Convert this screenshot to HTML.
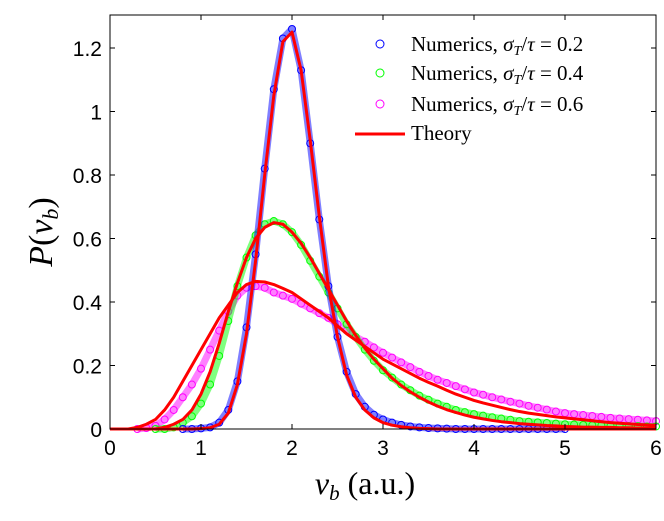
<!DOCTYPE html>
<html><head><meta charset="utf-8"><style>
body{margin:0;background:#fff}
svg text{font-family:"Liberation Sans",sans-serif}
.ser{font-family:"Liberation Serif",serif}
</style></head><body>
<svg id="chart" width="664" height="516" viewBox="0 0 664 516" xmlns="http://www.w3.org/2000/svg">
<g id="marks"></g>
<rect x="110" y="15" width="546" height="414" fill="none" stroke="#000" stroke-width="1"/>
<g id="axes"></g>
<text class="ser" transform="translate(52,232) rotate(-90)" text-anchor="middle" font-size="34"><tspan font-style="italic">P</tspan>(<tspan font-style="italic">v</tspan><tspan font-style="italic" font-size="22" dy="6">b</tspan><tspan dy="-6">)</tspan></text>
<text class="ser" x="365" y="494" text-anchor="middle" font-size="32"><tspan font-style="italic">v</tspan><tspan font-style="italic" font-size="21" dy="6">b</tspan><tspan dy="-6"> (a.u.)</tspan></text>
<g class="ser" font-size="21">
<circle cx="380" cy="44" r="4" fill="none" stroke="#0000ff"/>
<text class="ser" x="411" y="51">Numerics, <tspan font-style="italic">σ</tspan><tspan font-style="italic" font-size="14" dy="4">T</tspan><tspan dy="-4">/</tspan><tspan font-style="italic">τ</tspan> = 0.2</text>
<circle cx="380" cy="73" r="4" fill="none" stroke="#00ff00"/>
<text class="ser" x="411" y="80">Numerics, <tspan font-style="italic">σ</tspan><tspan font-style="italic" font-size="14" dy="4">T</tspan><tspan dy="-4">/</tspan><tspan font-style="italic">τ</tspan> = 0.4</text>
<circle cx="380" cy="104" r="4" fill="none" stroke="#ff00ff"/>
<text class="ser" x="411" y="111">Numerics, <tspan font-style="italic">σ</tspan><tspan font-style="italic" font-size="14" dy="4">T</tspan><tspan dy="-4">/</tspan><tspan font-style="italic">τ</tspan> = 0.6</text>
<line x1="355" y1="134" x2="405" y2="134" stroke="#ff0000" stroke-width="3"/>
<text class="ser" x="411" y="140">Theory</text>
</g>
</svg>
<script>
const xTicks=[0,1,2,3,4,5,6];
const yTicks=[0,0.2,0.4,0.6,0.8,1,1.2];
const yTickLabels=["0","0.2","0.4","0.6","0.8","1","1.2"];
const xStep=0.1;
const blueNum=[null,null,null,null,null,null,null,null,0,0,0.002,0.005,0.02,0.06,0.15,0.32,0.55,0.82,1.07,1.23,1.26,1.13,0.9,0.66,0.45,0.29,0.18,0.11,0.07,0.045,0.03,0.02,0.013,0.008,0.005,0.003,0.002,0.001,0,0,0,0,0,0,0,0,0,0,0,0,0,null,null,null,null,null,null,null,null,null,null];
const blueTh=[0,0,0,0,0,0,0,0,0,0,0.001,0.004,0.015,0.05,0.14,0.3,0.53,0.8,1.05,1.22,1.25,1.13,0.91,0.67,0.45,0.29,0.17,0.1,0.06,0.035,0.02,0.012,0.007,0.004,0.002,0.001,0,0,0,0,0,0,0,0,0,0,0,0,0,0,0,0,0,0,0,0,0,0,0,0,0];
const greenNum=[null,null,null,null,null,0,0,0.005,0.02,0.04,0.08,0.14,0.23,0.34,0.45,0.54,0.61,0.645,0.655,0.645,0.62,0.58,0.53,0.48,0.43,0.38,0.33,0.29,0.25,0.215,0.185,0.162,0.14,0.122,0.105,0.092,0.08,0.07,0.06,0.053,0.047,0.042,0.037,0.033,0.029,0.025,0.023,0.021,0.019,0.017,0.015,0.014,0.013,0.012,0.011,0.01,0.01,0.009,0.009,0.008,0.008];
const greenTh=[0,0,0,0,0,0,0.005,0.015,0.03,0.06,0.11,0.18,0.27,0.37,0.46,0.54,0.6,0.635,0.65,0.645,0.62,0.585,0.54,0.49,0.44,0.39,0.34,0.295,0.255,0.22,0.19,0.16,0.137,0.117,0.1,0.085,0.072,0.061,0.052,0.044,0.037,0.032,0.027,0.023,0.02,0.017,0.015,0.013,0.011,0.01,0.008,0.007,0.006,0.006,0.005,0.005,0.004,0.004,0.003,0.003,0.003];
const magNum=[null,null,null,0,0.003,0.01,0.03,0.06,0.1,0.14,0.19,0.25,0.31,0.37,0.42,0.445,0.45,0.445,0.43,0.42,0.41,0.395,0.38,0.365,0.35,0.33,0.31,0.29,0.275,0.257,0.24,0.225,0.21,0.195,0.18,0.167,0.155,0.145,0.135,0.125,0.115,0.108,0.1,0.093,0.086,0.08,0.073,0.067,0.061,0.055,0.05,0.047,0.044,0.041,0.038,0.035,0.033,0.031,0.029,0.027,0.025];
const magTh=[0,0,0,0.005,0.015,0.03,0.06,0.1,0.15,0.2,0.25,0.3,0.35,0.39,0.43,0.455,0.465,0.463,0.455,0.443,0.43,0.41,0.39,0.37,0.35,0.325,0.3,0.28,0.26,0.24,0.22,0.205,0.19,0.175,0.16,0.147,0.135,0.122,0.11,0.1,0.09,0.082,0.075,0.068,0.061,0.055,0.05,0.046,0.042,0.038,0.035,0.032,0.029,0.026,0.023,0.02,0.018,0.016,0.014,0.013,0.012];
const NS="http://www.w3.org/2000/svg";
const px=x=>110+x*546/6, py=y=>429-y*317.5;
const marks=document.getElementById('marks'), axes=document.getElementById('axes');
function mk(t,a,p){const e=document.createElementNS(NS,t);for(const k in a)e.setAttribute(k,a[k]);p.appendChild(e);return e;}
function pts(arr){const r=[];arr.forEach((v,i)=>{if(v!==null)r.push([px(i*xStep),py(v)]);});return r;}
function numerics(arr,col,name){
  const p=pts(arr);
  const band=mk('polyline',{points:p.map(q=>q.join(',')).join(' '),fill:'none',stroke:col,'stroke-width':7,'stroke-opacity':0.5,'stroke-linejoin':'round'},marks);
  
  
  p.forEach(q=>{const c=mk('circle',{cx:q[0],cy:q[1],r:3.5,fill:'none',stroke:col,'stroke-width':1},marks);
    
    });
}
function theory(arr,name){
  const l=mk('polyline',{points:pts(arr).map(q=>q.join(',')).join(' '),fill:'none',stroke:'#ff0000','stroke-width':3,'stroke-linejoin':'round'},marks);
  
  
}
numerics(magNum,'#ff00ff','numerics-0.6');
numerics(greenNum,'#00ff00','numerics-0.4');
numerics(blueNum,'#0000ff','numerics-0.2');
theory(magTh,'theory-0.6');
theory(greenTh,'theory-0.4');
theory(blueTh,'theory-0.2');
xTicks.forEach(t=>{const x=px(t);
  mk('line',{x1:x,y1:429,x2:x,y2:424,stroke:'#000'},axes);
  mk('line',{x1:x,y1:15,x2:x,y2:20,stroke:'#000'},axes);
  const tx=mk('text',{x:x,y:455,'text-anchor':'middle','font-size':21},axes);tx.textContent=t;
  
  });
yTicks.forEach((t,i)=>{const y=py(t);
  mk('line',{x1:110,y1:y,x2:115,y2:y,stroke:'#000'},axes);
  mk('line',{x1:656,y1:y,x2:651,y2:y,stroke:'#000'},axes);
  const tx=mk('text',{x:102,y:y+8,'text-anchor':'end','font-size':21},axes);tx.textContent=yTickLabels[i];
  
  });
</script>
</body></html>
